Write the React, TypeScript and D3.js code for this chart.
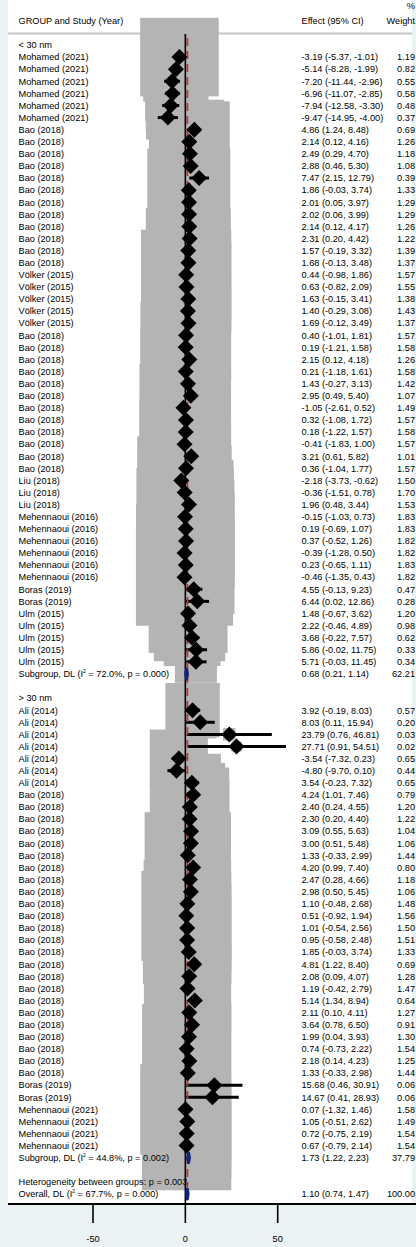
import React from "react";
import * as d3 from "d3";

// ---------- DATA ----------
const g1Labels = [
  "Mohamed (2021)", "Mohamed (2021)", "Mohamed (2021)", "Mohamed (2021)", "Mohamed (2021)", "Mohamed (2021)",
  "Bao (2018)", "Bao (2018)", "Bao (2018)", "Bao (2018)", "Bao (2018)", "Bao (2018)",
  "Bao (2018)", "Bao (2018)", "Bao (2018)", "Bao (2018)", "Bao (2018)", "Bao (2018)",
  "Völker (2015)", "Völker (2015)", "Völker (2015)", "Völker (2015)", "Völker (2015)",
  "Bao (2018)", "Bao (2018)", "Bao (2018)", "Bao (2018)", "Bao (2018)", "Bao (2018)",
  "Bao (2018)", "Bao (2018)", "Bao (2018)", "Bao (2018)", "Bao (2018)", "Bao (2018)",
  "Liu (2018)", "Liu (2018)", "Liu (2018)",
  "Mehennaoui (2016)", "Mehennaoui (2016)", "Mehennaoui (2016)", "Mehennaoui (2016)", "Mehennaoui (2016)", "Mehennaoui (2016)",
  "Boras (2019)", "Boras (2019)",
  "Ulm (2015)", "Ulm (2015)", "Ulm (2015)", "Ulm (2015)", "Ulm (2015)",
];
const g1Eff = [
  -3.19, -5.14, -7.20, -6.96, -7.94, -9.47,
  4.86, 2.14, 2.49, 2.88, 7.47, 1.86, 2.01, 2.02, 2.14, 2.31, 1.57, 1.68,
  0.44, 0.63, 1.63, 1.40, 1.69,
  0.40, 0.19, 2.15, 0.21, 1.43, 2.95, -1.05, 0.32, 0.18, -0.41, 3.21, 0.36,
  -2.18, -0.36, 1.96,
  -0.15, 0.19, 0.37, -0.39, 0.23, -0.46,
  4.55, 6.44,
  1.48, 2.22, 3.68, 5.86, 5.71,
];
const g1Lo = [
  -5.37, -8.28, -11.44, -11.07, -12.58, -14.95,
  1.24, 0.12, 0.29, 0.46, 2.15, -0.03, 0.05, 0.06, 0.12, 0.20, -0.19, -0.13,
  -0.98, -0.82, -0.15, -0.29, -0.12,
  -1.01, -1.21, 0.12, -1.18, -0.27, 0.49, -2.61, -1.08, -1.22, -1.83, 0.61, -1.04,
  -3.73, -1.51, 0.48,
  -1.03, -0.69, -0.52, -1.28, -0.65, -1.35,
  -0.13, 0.02,
  -0.67, -0.46, -0.22, -0.02, -0.03,
];
const g1Hi = [
  -1.01, -1.99, -2.96, -2.85, -3.30, -4.00,
  8.48, 4.16, 4.70, 5.30, 12.79, 3.74, 3.97, 3.99, 4.17, 4.42, 3.32, 3.48,
  1.86, 2.09, 3.41, 3.08, 3.49,
  1.81, 1.58, 4.18, 1.61, 3.13, 5.40, 0.52, 1.72, 1.57, 1.00, 5.82, 1.77,
  -0.62, 0.78, 3.44,
  0.73, 1.07, 1.26, 0.50, 1.11, 0.43,
  9.23, 12.86,
  3.62, 4.89, 7.57, 11.75, 11.45,
];
const g1W = [
  1.19, 0.82, 0.55, 0.58, 0.48, 0.37,
  0.69, 1.26, 1.18, 1.08, 0.39, 1.33, 1.29, 1.29, 1.26, 1.22, 1.39, 1.37,
  1.57, 1.55, 1.38, 1.43, 1.37,
  1.57, 1.58, 1.26, 1.58, 1.42, 1.07, 1.49, 1.57, 1.58, 1.57, 1.01, 1.57,
  1.50, 1.70, 1.53,
  1.83, 1.83, 1.82, 1.82, 1.83, 1.82,
  0.47, 0.28,
  1.20, 0.98, 0.62, 0.33, 0.34,
];

const g2Labels = [
  "Ali (2014)", "Ali (2014)", "Ali (2014)", "Ali (2014)", "Ali (2014)", "Ali (2014)", "Ali (2014)",
  "Bao (2018)", "Bao (2018)", "Bao (2018)", "Bao (2018)", "Bao (2018)", "Bao (2018)",
  "Bao (2018)", "Bao (2018)", "Bao (2018)", "Bao (2018)", "Bao (2018)", "Bao (2018)",
  "Bao (2018)", "Bao (2018)", "Bao (2018)", "Bao (2018)", "Bao (2018)", "Bao (2018)",
  "Bao (2018)", "Bao (2018)", "Bao (2018)", "Bao (2018)", "Bao (2018)", "Bao (2018)",
  "Boras (2019)", "Boras (2019)",
  "Mehennaoui (2021)", "Mehennaoui (2021)", "Mehennaoui (2021)", "Mehennaoui (2021)",
];
const g2Eff = [
  3.92, 8.03, 23.79, 27.71, -3.54, -4.80, 3.54,
  4.24, 2.40, 2.30, 3.09, 3.00, 1.33, 4.20, 2.47, 2.98, 1.10, 0.51, 1.01,
  0.95, 1.85, 4.81, 2.08, 1.19, 5.14, 2.11, 3.64, 1.99, 0.74, 2.18, 1.33,
  15.68, 14.67,
  0.07, 1.05, 0.72, 0.67,
];
const g2Lo = [
  -0.19, 0.11, 0.76, 0.91, -7.32, -9.70, -0.23,
  1.01, 0.24, 0.20, 0.55, 0.51, -0.33, 0.99, 0.28, 0.50, -0.48, -0.92, -0.54,
  -0.58, -0.03, 1.22, 0.09, -0.42, 1.34, 0.10, 0.78, 0.04, -0.73, 0.14, -0.33,
  0.46, 0.41,
  -1.32, -0.51, -0.75, -0.79,
];
const g2Hi = [
  8.03, 15.94, 46.81, 54.51, 0.23, 0.10, 7.32,
  7.46, 4.55, 4.40, 5.63, 5.48, 2.99, 7.40, 4.66, 5.45, 2.68, 1.94, 2.56,
  2.48, 3.74, 8.40, 4.07, 2.79, 8.94, 4.11, 6.50, 3.93, 2.22, 4.23, 2.98,
  30.91, 28.93,
  1.46, 2.62, 2.19, 2.14,
];
const g2W = [
  0.57, 0.20, 0.03, 0.02, 0.65, 0.44, 0.65,
  0.79, 1.20, 1.22, 1.04, 1.06, 1.44, 0.80, 1.18, 1.06, 1.48, 1.56, 1.50,
  1.51, 1.33, 0.69, 1.28, 1.47, 0.64, 1.27, 0.91, 1.30, 1.54, 1.25, 1.44,
  0.06, 0.06,
  1.58, 1.49, 1.54, 1.54,
];

const groupNames = ["< 30 nm", "> 30 nm"];
const pooledLabels = ["Subgroup, DL", "Subgroup, DL", "Overall, DL"];
const pooledI2 = ["72.0%", "44.8%", "67.7%"];
const pooledP = ["0.000", "0.002", "0.000"];
const pooledEff = [0.68, 1.73, 1.10];
const pooledLo = [0.21, 1.22, 0.74];
const pooledHi = [1.14, 2.23, 1.47];
const pooledW = [62.21, 37.79, 100.0];
const hetText = "Heterogeneity between groups: p = 0.003";
const xTicks = [-50, 0, 50];

// ---------- LAYOUT ----------
const W = 416;
const H = 1247;
const FONT = "'Liberation Sans', Arial, Helvetica, sans-serif";
const FS = 9.2;
const BOX = "#b4b4b4";
const NAVY = "#14237a";
const RED = "#b0383c";
const BG = "#eaf2f3";

type Row =
  | { kind: "group"; label: string }
  | { kind: "study"; label: string; eff: number; lo: number; hi: number; w: number }
  | { kind: "pooled"; idx: number }
  | { kind: "blank" }
  | { kind: "het" };

function buildRows(): Row[] {
  const rows: Row[] = [];
  const groups = [
    [g1Labels, g1Eff, g1Lo, g1Hi, g1W],
    [g2Labels, g2Eff, g2Lo, g2Hi, g2W],
  ] as const;
  groups.forEach((g, gi) => {
    rows.push({ kind: "group", label: groupNames[gi] });
    const [labs, eff, lo, hi, w] = g as any;
    labs.forEach((l: string, i: number) =>
      rows.push({ kind: "study", label: l, eff: eff[i], lo: lo[i], hi: hi[i], w: w[i] })
    );
    rows.push({ kind: "pooled", idx: gi });
    rows.push({ kind: "blank" });
  });
  rows.push({ kind: "het" });
  rows.push({ kind: "pooled", idx: 2 });
  return rows;
}

const fmt = (v: number) => v.toFixed(2);

export default function App() {
  const rows = buildRows();
  const n = rows.length;
  const y = d3.scaleLinear().domain([0, n - 1]).range([45, 1194]);
  const x = d3.scaleLinear().domain([-50, 50]).range([93, 277.7]);
  const boxK = 72;
  const dHalf = 8;
  const axisY = 1204;
  const labelX = 18.5;
  const effX = 301.5;
  const wX = 415;

  const studies = rows
    .map((r, i) => ({ r, i }))
    .filter((d) => d.r.kind === "study") as { r: Extract<Row, { kind: "study" }>; i: number }[];
  const pooled = rows
    .map((r, i) => ({ r, i }))
    .filter((d) => d.r.kind === "pooled") as { r: Extract<Row, { kind: "pooled" }>; i: number }[];

  const overallX = x(pooledEff[2]);
  const overallRowY = y(n - 1);

  const txt = (props: any, children: any) => (
    <text fontFamily={FONT} fontSize={FS} fill="#000" {...props}>
      {children}
    </text>
  );

  return (
    <svg
      width={W}
      height={H}
      style={{ position: "absolute", left: 0, top: 0, display: "block" }}
    >
      <rect x={0} y={0} width={W} height={H} fill={BG} />
      <rect x={8} y={0} width={404} height={axisY + 1} fill="#fff" />

      {/* header */}
      <line x1={8} x2={412} y1={33.5} y2={33.5} stroke="#c4c4c4" strokeWidth={2} />
      {txt({ x: labelX, y: 24.3 }, "GROUP and Study (Year)")}
      {txt({ x: effX, y: 24.3 }, "Effect (95% CI)")}
      {txt({ x: wX, y: 9.3, textAnchor: "end" }, "%")}
      {txt({ x: wX, y: 24.3, textAnchor: "end" }, "Weight")}

      {/* weight boxes */}
      <g>
        {studies.map(({ r, i }) => {
          const s = boxK * Math.sqrt(r.w);
          return (
            <rect key={"b" + i} x={x(r.eff) - s / 2} y={y(i) - s / 2} width={s} height={s} fill={BOX} />
          );
        })}
      </g>

      {/* text rows */}
      <g>
        {rows.map((r, i) => {
          const yy = y(i) + 3.3;
          if (r.kind === "group") return <g key={"t" + i}>{txt({ x: labelX, y: yy }, r.label)}</g>;
          if (r.kind === "het") return <g key={"t" + i}>{txt({ x: labelX, y: yy }, hetText)}</g>;
          if (r.kind === "study")
            return (
              <g key={"t" + i}>
                {txt({ x: labelX, y: yy }, r.label)}
                {txt({ x: effX, y: yy }, `${fmt(r.eff)} (${fmt(r.lo)}, ${fmt(r.hi)})`)}
                {txt({ x: wX, y: yy, textAnchor: "end" }, fmt(r.w))}
              </g>
            );
          if (r.kind === "pooled") {
            const k = r.idx;
            return (
              <g key={"t" + i}>
                <text fontFamily={FONT} fontSize={FS} fill="#000" x={labelX} y={yy}>
                  {pooledLabels[k] + " (I"}
                  <tspan fontSize={5} dy={-4}>2</tspan>
                  <tspan dy={4}>{` = ${pooledI2[k]}, p = ${pooledP[k]})`}</tspan>
                </text>
                {txt({ x: effX, y: yy }, `${fmt(pooledEff[k])} (${fmt(pooledLo[k])}, ${fmt(pooledHi[k])})`)}
                {txt({ x: wX, y: yy, textAnchor: "end" }, fmt(pooledW[k]))}
              </g>
            );
          }
          return null;
        })}
      </g>

      {/* CI lines */}
      <g>
        {studies.map(({ r, i }) => (
          <line key={"c" + i} x1={x(r.lo)} x2={x(r.hi)} y1={y(i)} y2={y(i)} stroke="#000" strokeWidth={3} />
        ))}
      </g>

      {/* null line */}
      <line x1={x(0)} x2={x(0)} y1={34} y2={axisY} stroke="#000" strokeWidth={1.6} />
      {/* overall effect line */}
      <line
        x1={overallX}
        x2={overallX}
        y1={38}
        y2={overallRowY - 7}
        stroke={RED}
        strokeWidth={1.8}
        strokeDasharray="8,5"
      />

      {/* point estimate diamonds */}
      <g>
        {studies.map(({ r, i }) => {
          const cx = x(r.eff);
          const cy = y(i);
          return (
            <path
              key={"d" + i}
              d={`M${cx},${cy - dHalf}L${cx + dHalf},${cy}L${cx},${cy + dHalf}L${cx - dHalf},${cy}Z`}
              fill="#000"
            />
          );
        })}
      </g>

      {/* pooled diamonds */}
      <g>
        {pooled.map(({ r, i }) => {
          const k = r.idx;
          const cy = y(i);
          const l = x(pooledLo[k]);
          const h = x(pooledHi[k]);
          const c = x(pooledEff[k]);
          return (
            <path
              key={"p" + i}
              d={`M${l},${cy}L${c},${cy - 5}L${h},${cy}L${c},${cy + 5}Z`}
              fill={NAVY}
              stroke={NAVY}
              strokeWidth={3}
              strokeLinejoin="round"
            />
          );
        })}
      </g>

      {/* axis */}
      <line x1={8} x2={W} y1={axisY} y2={axisY} stroke="#000" strokeWidth={2} />
      {xTicks.map((t) => (
        <g key={"tk" + t}>
          <line x1={x(t)} x2={x(t)} y1={axisY} y2={axisY + 19} stroke="#000" strokeWidth={1.6} />
          {txt({ x: x(t), y: 1242.3, textAnchor: "middle" }, String(t))}
        </g>
      ))}
    </svg>
  );
}
